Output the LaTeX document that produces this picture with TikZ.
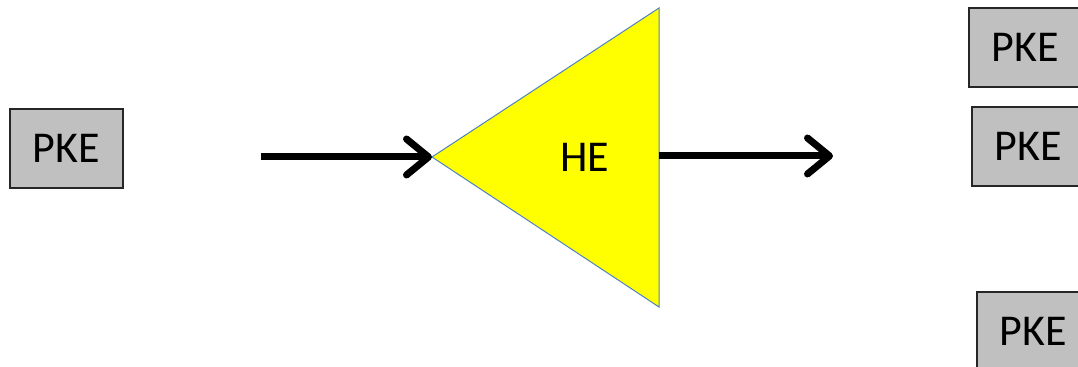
\documentclass[tikz,border=0pt]{standalone}
\usepackage{fontspec}
\setmainfont{Carlito}
\usepackage{tikz}
\usetikzlibrary{arrows.meta,positioning}
\definecolor{cBox}{HTML}{C0C0C0}
\definecolor{cEdge}{HTML}{4F81BD}
\definecolor{cAmp}{HTML}{FFFF00}
\tikzset{
  pke/.style  = {rectangle, draw=black!85, fill=cBox, line width=0.7pt,
                 minimum width=56.5pt, minimum height=39.5pt, inner sep=0pt,
                 font=\fontsize{22}{26}\selectfont},
  amp/.style  = {draw=cEdge, fill=cAmp, line width=0.5pt, line join=miter},
  lbl/.style  = {font=\fontsize{22}{26}\selectfont, inner sep=0pt},
  sig/.style  = {-{Straight Barb[length=11pt, width=18pt, line cap=round, line join=round]},
                 line width=3.5pt, draw=black},
}
\begin{document}
\begin{tikzpicture}[x=0.5pt, y=-0.5pt]
  \useasboundingbox (0,0) rectangle (1078,367);
  \clip (0,0) rectangle (1078,367);
  % input key
  \node[pke] (pkeIn) at (66.5,148.5) {PKE};
  % amplifier
  \coordinate (ampTip) at (432,157);
  \coordinate (ampTop) at (659,8);
  \coordinate (ampBot) at (659,307);
  \filldraw[amp] (ampTip) -- (ampTop) -- (ampBot) -- cycle;
  \node[lbl] (he) at (585,157) {HE};
  % signal arrows
  \coordinate (sigIn) at (261,157);
  \coordinate (ampOut) at (659,156);
  \coordinate (sigOut) at (833,156);
  \draw[sig] (sigIn) -- (ampTip);
  \draw[sig] (ampOut) -- (sigOut);
  % output keys
  \node[pke] (pkeA) at (1025.5,47.5) {PKE};
  \node[pke] (pkeB) at (1028.5,146.5) {PKE};
  \node[pke] (pkeC) at (1033.5,331.5) {PKE};
\end{tikzpicture}
\end{document}
